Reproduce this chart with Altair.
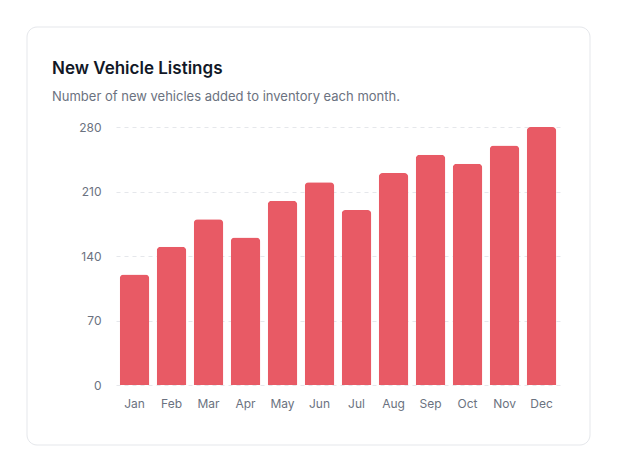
import altair as alt
import pandas as pd

months = ["Jan", "Feb", "Mar", "Apr", "May", "Jun", "Jul", "Aug", "Sep", "Oct", "Nov", "Dec"]
listings = [120, 150, 180, 160, 200, 220, 190, 230, 250, 240, 260, 280]
y_ticks = [0, 70, 140, 210, 280]

title_text = "New Vehicle Listings"
subtitle_text = "Number of new vehicles added to inventory each month."

df = pd.DataFrame({"month": months, "listings": listings})

W, H = 444, 258

bars = alt.Chart(df).mark_bar(
    color="#e85a65", cornerRadiusTopLeft=4, cornerRadiusTopRight=4
).encode(
    x=alt.X("month:N", sort=months, title=None,
            scale=alt.Scale(paddingInner=0.2, paddingOuter=0.1),
            axis=alt.Axis(labelAngle=0, labelPadding=13, ticks=False, domain=False,
                          grid=False, labelFont="Inter", labelFontSize=12,
                          labelColor="#6b7280")),
    y=alt.Y("listings:Q", title=None,
            scale=alt.Scale(domain=[0, 280], nice=False),
            axis=alt.Axis(values=y_ticks, labelPadding=15, ticks=False, domain=False,
                          grid=True, gridDash=[4, 4], gridColor="#e5e7eb",
                          labelFont="Inter", labelFontSize=12, labelColor="#6b7280")),
)

one = alt.Data(values=[{"k": 1}])

card = alt.Chart(one).mark_rect(
    fill="transparent", stroke="#e5e7eb", strokeWidth=1, cornerRadius=10, clip=False
).encode(
    x=alt.value(-89), x2=alt.value(474), y=alt.value(-100), y2=alt.value(H + 60)
)

title = alt.Chart(one).mark_text(
    text=title_text, font="Inter", fontSize=17, fontWeight=600, color="#111827",
    align="left", baseline="alphabetic"
).encode(x=alt.value(-64), y=alt.value(-53))

subtitle = alt.Chart(one).mark_text(
    text=subtitle_text, font="Inter", fontSize=13, color="#6b7280",
    align="left", baseline="alphabetic"
).encode(x=alt.value(-64), y=alt.value(-26))

chart = alt.layer(card, bars, title, subtitle).properties(
    width=W, height=H,
    padding={"left": 18, "top": 18, "right": 5, "bottom": 5},
    background="white",
).configure_view(stroke=None)

chart.save("out.html", embed_options={"renderer": "svg", "actions": False})
